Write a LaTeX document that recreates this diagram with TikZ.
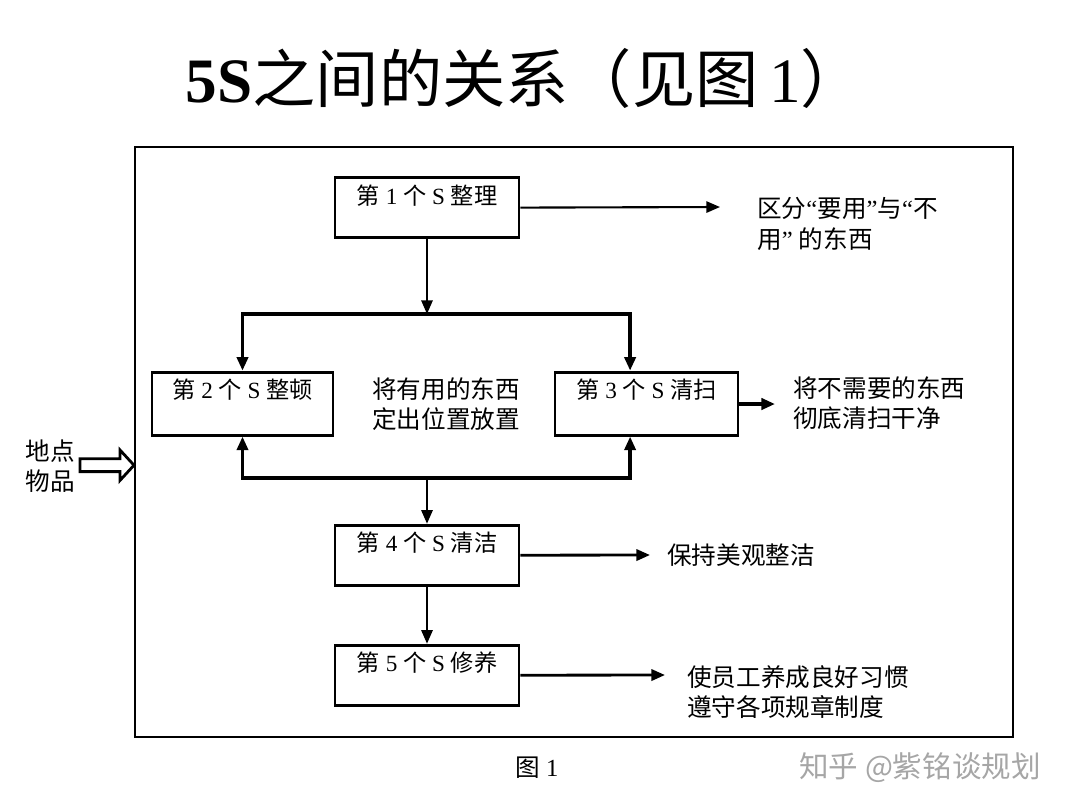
\documentclass[tikz,border=0pt]{standalone}
\usepackage{fontspec}
\setmainfont{Liberation Serif}
\newfontfamily\cjk{Noto Sans CJK SC}
\newcommand{\zh}[1]{{\cjk #1}}
\usepackage{tikz}
\usetikzlibrary{arrows.meta,positioning}

\tikzset{
  sbox/.style={draw,line width=2.1pt,minimum width=4.6cm,minimum height=1.5cm},
  boxtxt/.style={anchor=north,inner sep=0pt,yshift=-0.2cm,font=\fontsize{16.5}{20}\selectfont},
  desc/.style={anchor=west,align=left,inner sep=0pt,font=\fontsize{17.5}{21.5}\selectfont},
  flow/.style={->,line width=1.5pt},
  branch/.style={->,line width=2.8pt},
}

\begin{document}
\begin{tikzpicture}[>={Triangle[length=0.34cm,width=0.28cm]}, node distance=4.9cm]
    \useasboundingbox (0,0) rectangle (27,-20.25);
    % title
    \node[font=\fontsize{45}{50}\selectfont] (title) at (13.125,-1.95)
      {\textbf{5S}\zh{之间的关系（见图}\,1\zh{）}};
    \draw[line width=1.6pt] (3.375,-3.675) rectangle (25.325,-18.425);

    \node[sbox,label={[name=s1t,boxtxt]north:\zh{第} 1 \zh{个} S \zh{整理}}] (s1) at (10.675,-5.19) {};
    \node[sbox,minimum height=1.575cm,minimum width=4.525cm,below of=s1,xshift=-4.6125cm,
      label={[name=s2t,boxtxt]north:\zh{第} 2 \zh{个} S \zh{整顿}}] (s2) {};
    \node[sbox,minimum height=1.575cm,minimum width=4.575cm,below of=s1,xshift=5.4875cm,
      label={[name=s3t,boxtxt]north:\zh{第} 3 \zh{个} S \zh{清扫}}] (s3) {};
    \node[sbox,below of=s1,node distance=8.69cm,
      label={[name=s4t,boxtxt]north:\zh{第} 4 \zh{个} S \zh{清洁}}] (s4) {};
    \node[sbox,below of=s4,node distance=3cm,
      label={[name=s5t,boxtxt]north:\zh{第} 5 \zh{个} S \zh{修养}}] (s5) {};

    \node[desc,anchor=center,align=left] (mid) at (11.15,-10.1)
      {\zh{将有用的东西}\\\zh{定出位置放置}};
    \node[desc] (d1) at (18.925,-5.6) {\zh{区分}“\zh{要用}”\zh{与}“\zh{不}\\\zh{用}”~\zh{的东西}};
    \node[desc] (d3) at (19.825,-10.075) {\zh{将不需要的东西}\\\zh{彻底清扫干净}};
    \node[desc] (d4) at (16.675,-13.875) {\zh{保持美观整洁}};
    \node[desc] (d5) at (17.175,-17.3) {\zh{使员工养成良好习惯}\\\zh{遵守各项规章制度}};
    \node[desc,anchor=center] (place) at (1.25,-11.65) {\zh{地点}\\\zh{物品}};

    \node[font=\fontsize{17.5}{20}\selectfont] (fig) at (13.425,-19.2) {\zh{图}~1};
    \node[font=\fontsize{21}{24}\selectfont,text=black!35] (mark) at (23.0,-19.2) {\zh{知乎 @紫铭谈规划}};

    \coordinate (split) at (10.675,-7.85);
    \coordinate (merge) at (10.675,-11.95);
    \coordinate (o1) at (18.0,-5.175);
    \coordinate (o3) at (19.375,-10.1);
    \coordinate (o4) at (16.25,-13.875);
    \coordinate (o5) at (16.625,-16.875);

    \draw[flow] (s1) -- (split);
    \draw[branch] (split) -| (s2);
    \draw[branch] (split) -| ([xshift=-0.41cm]s3.north);
    \draw[branch,<->,line width=2.3pt] (s2.south) |- (merge) -| ([xshift=-0.41cm]s3.south);
    \draw[flow] (merge) -- (s4);
    \draw[flow] (s4) -- (s5);

    \draw[flow] (s1.east) -- (o1);
    \draw[flow,line width=2.8pt] (s3.east |- o3) -- (o3);
    \draw[flow,line width=2pt] (s4.east) -- (o4);
    \draw[flow,line width=2pt] (s5.east) -- (o5);

    % hollow arrow into the frame
    \draw[line width=2pt,line join=miter] (2.0,-11.47) -- (3.0,-11.47) -- (3.0,-11.25)
      -- (3.35,-11.63) -- (3.0,-12.01) -- (3.0,-11.79) -- (2.0,-11.79) -- cycle;
  \end{tikzpicture}
\end{document}
